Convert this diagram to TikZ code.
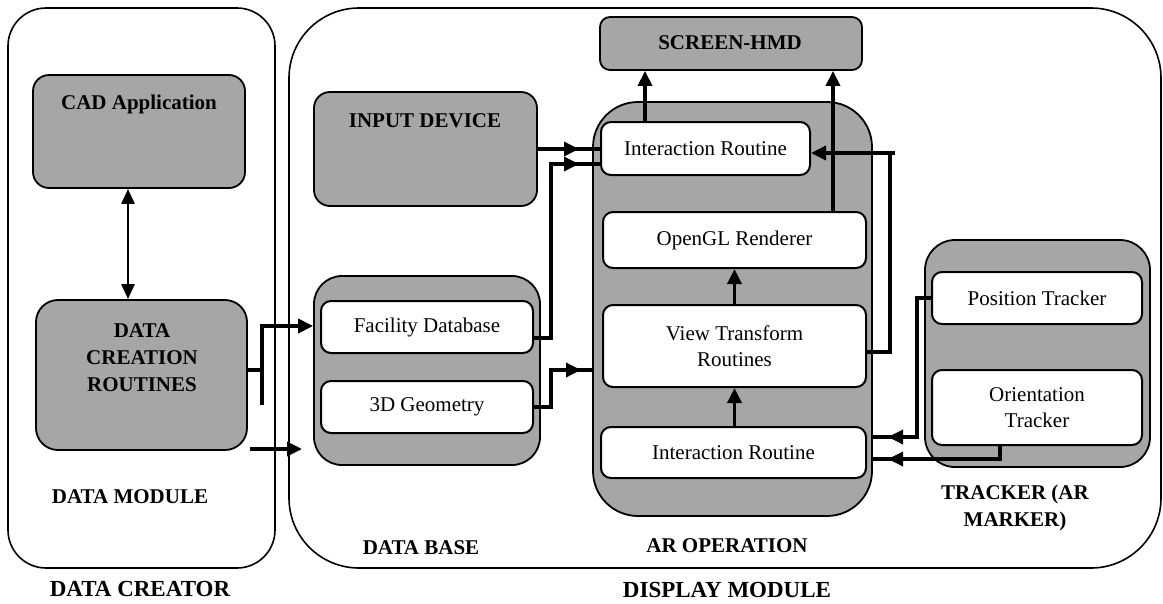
\documentclass[tikz,border=0pt]{standalone}
\usepackage{fontspec}
\setmainfont{Liberation Serif}
\usetikzlibrary{arrows.meta}
\definecolor{boxgray}{RGB}{166,166,166}
\newcommand\rbox[7]{\node[#2, minimum width={(#5-#3)*1pt}, minimum height={(#6-#4)*1pt}] (#1) at ({(#3+#5)/2},{(#4+#6)/2}) {#7};}
\begin{document}
\begin{tikzpicture}[x=1pt,y=-1pt,
  outer/.style={draw, line width=1.6pt, inner sep=0pt},
  grp/.style={draw, fill=boxgray, line width=1.8pt, inner sep=0pt},
  wbox/.style={draw, fill=white, line width=2pt, rounded corners=10pt, inner sep=0pt, align=center, font=\fontsize{21}{26}\selectfont},
  lbl/.style={font=\bfseries\fontsize{21}{27}\selectfont, align=center, inner sep=0pt},
  biglbl/.style={font=\bfseries\fontsize{23}{27}\selectfont, align=center, inner sep=0pt},
  conn/.style={line width=3.4pt},
  tip/.style={-{Triangle[length=15pt,width=14pt]}},
  dtip/.style={{Triangle[length=15pt,width=13pt]}-{Triangle[length=15pt,width=13pt]}},
]
\useasboundingbox (0,0) rectangle (1163,603);

% outer modules
\rbox{dcbox}{outer, rounded corners=38pt}{8}{8}{275}{568}{}
\rbox{dmbox}{outer, rounded corners=70pt}{289}{8}{1161}{568}{}

% data creator
\rbox{cad}{grp, rounded corners=16pt}{33}{75}{245}{188}{}
\node[lbl] (cadt) at (139,104) {CAD Application};
\rbox{dcr}{grp, rounded corners=22pt}{36}{300}{247}{450}{}
\node[lbl] (dcrt) at (142,358) {DATA\\CREATION\\ROUTINES};
\node[lbl] (dmod) at (130,497) {DATA MODULE};
\node[biglbl] (dcreator) at (140,589) {DATA CREATOR};

% display module
\rbox{scr}{grp, rounded corners=10pt}{600}{17}{862}{70}{}
\node[lbl] (scrt) at (730,43) {SCREEN-HMD};
\rbox{inp}{grp, rounded corners=16pt}{314}{92}{537}{206}{}
\node[lbl] (inpt) at (425,121) {INPUT DEVICE};

\rbox{dbg}{grp, rounded corners=28pt}{314}{276}{540}{465}{}
\rbox{fac}{wbox}{321}{301}{533}{353}{Facility Database}
\rbox{geo}{wbox}{321}{381}{533}{433}{3D Geometry}
\node[lbl] (dbt) at (421,548) {DATA BASE};

\rbox{arg}{grp, rounded corners=45pt}{593}{102}{872}{516}{}
\rbox{ir1}{wbox}{601}{122}{810}{175}{Interaction Routine}
\rbox{ogl}{wbox}{603}{212}{866}{268}{OpenGL Renderer}
\rbox{vtr}{wbox}{603}{305}{866}{387}{View Transform\\Routines}
\rbox{ir2}{wbox}{601}{427}{866}{478}{Interaction Routine}
\node[lbl] (art) at (727,546) {AR OPERATION};

\rbox{trg}{grp, rounded corners=30pt}{925}{240}{1150}{467}{}
\rbox{pos}{wbox}{932}{272}{1142}{324}{Position Tracker}
\rbox{ori}{wbox}{932}{370}{1142}{445}{Orientation\\Tracker}
\node[lbl] (trt) at (1015,508) {TRACKER (AR\\MARKER)};
\node[biglbl] (dmt) at (727,590) {DISPLAY MODULE};

% junction coordinates
\coordinate (j1) at (262,370);
\coordinate (j1b) at (262,405);
\coordinate (j1t) at (262,326);
\coordinate (a2s) at (250,449);
\coordinate (a2e) at (302,449);
\coordinate (t3) at (579,149);
\coordinate (j4a) at (551,338);
\coordinate (j4b) at (551,164);
\coordinate (t4) at (579,164);
\coordinate (j5a) at (551,407);
\coordinate (j5b) at (551,370);
\coordinate (t5) at (581,370);
\coordinate (j8a) at (890,352);
\coordinate (j8b) at (890,153);
\coordinate (j8c) at (895,153);
\coordinate (j9a) at (917,298);
\coordinate (j9b) at (917,437);
\coordinate (t9) at (888,437);
\coordinate (j10a) at (1000,459);
\coordinate (t10) at (888,459);

% connectors
\draw[line width=2.8pt, dtip] (128,0 |- cad.south) -- (128,0 |- dcr.north);
\draw[conn] (dcr.east |- j1) -- (j1);
\draw[conn, tip] (j1b) -- (j1t) -- (dbg.west |- j1t);
\draw[conn, tip] (a2s) -- (a2e);

\draw[conn] (inp.east |- t3) -- (ir1.west |- t3);
\draw[conn, tip] (inp.east |- t3) -- (t3);
\draw[conn] (fac.east |- j4a) -- (j4a) -- (j4b) -- (ir1.west |- j4b);
\draw[conn, tip] (j4b) -- (t4);
\draw[conn] (geo.east |- j5a) -- (j5a) -- (j5b) -- (arg.west |- j5b);
\draw[conn, tip] (j5b) -- (t5);

\draw[conn, tip] (645,0 |- ir1.north) -- (645,0 |- scr.south);
\draw[conn, tip] (833,0 |- ogl.north) -- (833,0 |- scr.south);
\draw[conn, tip] (ogl.north |- vtr.north) -- (ogl.south);
\draw[conn, tip] (ir2.north -| vtr.north) -- (vtr.south);

\draw[conn] (vtr.east |- j8a) -- (j8a) -- (j8b);
\draw[conn, tip] (j8c) -- (ir1.east |- j8c);

\draw[conn] (pos.west |- j9a) -- (j9a) -- (j9b) -- (arg.east |- j9b);
\draw[conn, tip] (j9b) -- (t9);
\draw[conn] (1000,0 |- ori.south) -- (j10a) -- (arg.east |- j10a);
\draw[conn, tip] (j10a) -- (t10);
\end{tikzpicture}
\end{document}
